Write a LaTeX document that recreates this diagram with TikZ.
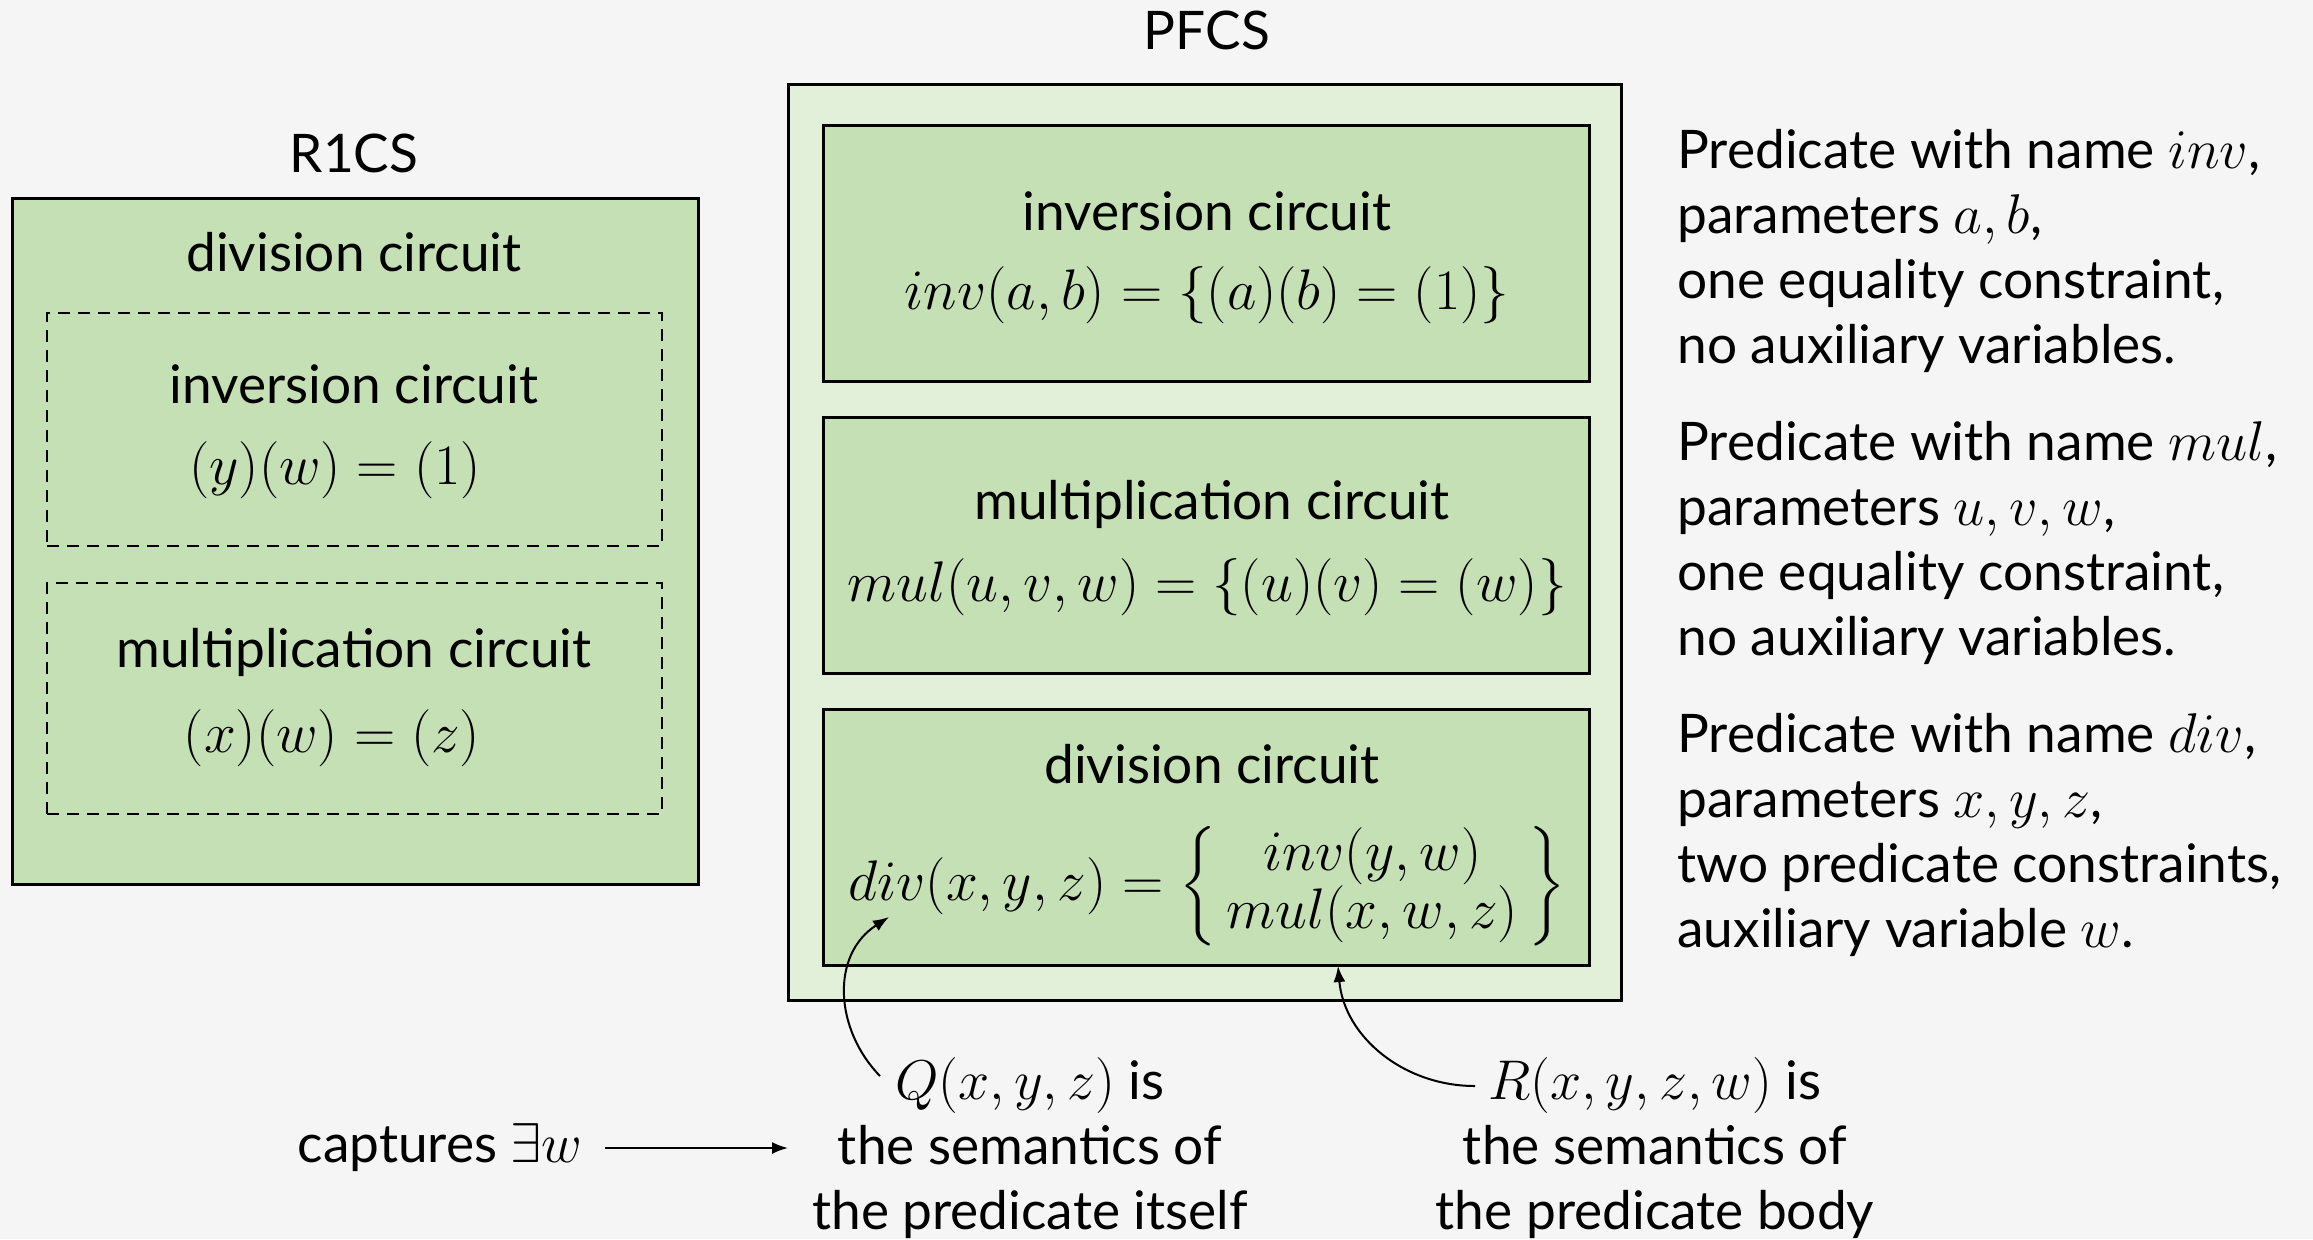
\RequirePackage{fix-cm}
\documentclass[tikz,border=0pt]{standalone}
\usepackage{amsmath}
\usepackage{fontspec}
\setmainfont{Lato}
\usetikzlibrary{arrows.meta}
\definecolor{bg}{HTML}{F5F5F5}
\definecolor{gA}{HTML}{C5E0B4}
\definecolor{gB}{HTML}{E2EFD9}
\newcommand{\mm}[1]{{\fontsize{28}{32.5}\selectfont$#1$}}
\tikzset{
  lbl/.style={font=\fontsize{26.6}{32.5}\selectfont, inner sep=0pt, align=center},
  fml/.style={font=\fontsize{28.6}{36}\selectfont, inner sep=0pt, align=center},
  rtext/.style={font=\fontsize{26.6}{32.5}\selectfont, inner sep=0pt, align=left, anchor=west},
  solidbox/.style={draw=black, line width=1.5pt, fill=gA, inner sep=0pt},
  outerbox/.style={draw=black, line width=1.5pt, fill=gB, inner sep=0pt},
  dashbox/.style={draw=black, line width=1.1pt, dash pattern=on 6pt off 4pt, inner sep=0pt},
  arr/.style={line width=1pt, -{Latex[length=8pt,width=6pt]}},
}
\begin{document}
\begin{tikzpicture}[x=0.5pt,y=-0.5pt]
\fill[bg] (0,0) rectangle (2313,1239);
\useasboundingbox (0,0) rectangle (2313,1239);

% R1CS
\node[lbl] (r1cs) at (354,153) {R1CS};
\node[solidbox, minimum width=343pt, minimum height=343pt] (rbox) at (355,541) {};
\node[lbl] (rdiv) at (354,252) {division circuit};
\node[dashbox, minimum width=307.5pt, minimum height=116.5pt] (d1) at (354.5,429.5) {};
\node[lbl] (d1t) at (354,384) {inversion circuit};
\node[fml] (d1f) at (335,470) {$(y)(w) = (1)$};
\node[dashbox, minimum width=307.5pt, minimum height=115.5pt] (d2) at (354.5,698.5) {};
\node[lbl] (d2t) at (354,652) {multiplication circuit};
\node[fml] (d2f) at (332,738) {$(x)(w) = (z)$};

% PFCS
\node[lbl] (pfcs) at (1207,30) {PFCS};
\node[outerbox, minimum width=416.5pt, minimum height=458pt] (pbox) at (1204.5,542) {};
\node[solidbox, minimum width=383pt, minimum height=128pt] (p1) at (1206,253) {};
\node[lbl] (p1t) at (1207,211) {inversion circuit};
\node[fml] (p1f) at (1207,295) {$inv(a,b) = \{(a)(b) = (1)\}$};
\node[solidbox, minimum width=383pt, minimum height=128pt] (p2) at (1206,545) {};
\node[lbl] (p2t) at (1212,504) {multiplication circuit};
\node[fml] (p2f) at (1207,587) {$mul(u,v,w) = \{(u)(v) = (w)\}$};
\node[solidbox, minimum width=383pt, minimum height=128pt] (p3) at (1206,837.5) {};
\node[lbl] (p3t) at (1212,764) {division circuit};
\node[fml] (p3f) at (1207,886) {$div(x,y,z) = \left\{\renewcommand{\arraystretch}{0.72}\begin{array}{c}inv(y,w)\\ mul(x,w,z)\end{array}\right\}$};

% right descriptions
\node[rtext] (desc1) at (1677,250.5) {Predicate with name \mm{inv},\\ parameters \mm{a,b},\\ one equality constraint,\\ no auxiliary variables.};
\node[rtext] (desc2) at (1677,542.5) {Predicate with name \mm{mul},\\ parameters \mm{u,v,w},\\ one equality constraint,\\ no auxiliary variables.};
\node[rtext] (desc3) at (1677,834.5) {Predicate with name \mm{div},\\ parameters \mm{x,y,z},\\ two predicate constraints,\\ auxiliary variable \mm{w}.};

% bottom
\node[lbl] (qtxt) at (1030,1148) {\mm{Q(x,y,z)} is\\ the semantics of\\ the predicate itself};
\node[lbl] (rtxt) at (1655,1148) {\mm{R(x,y,z,w)} is\\ the semantics of\\ the predicate body};
\node[lbl, anchor=east] (capt) at (583,1148) {captures \mm{\exists w}};

\coordinate (qs) at (880,1076);
\coordinate (qe) at (889,917);
\coordinate (rs) at (1475,1086);
\coordinate (re) at (1338,966);
\coordinate (ce) at (788,1148);

\draw[arr] (capt.east) ++(22,0) -- (ce);
\draw[arr] (qs) .. controls (835,1030) and (830,955) .. (qe);
\draw[arr] (rs) to[out=180,in=-85] (re);
\end{tikzpicture}
\end{document}
